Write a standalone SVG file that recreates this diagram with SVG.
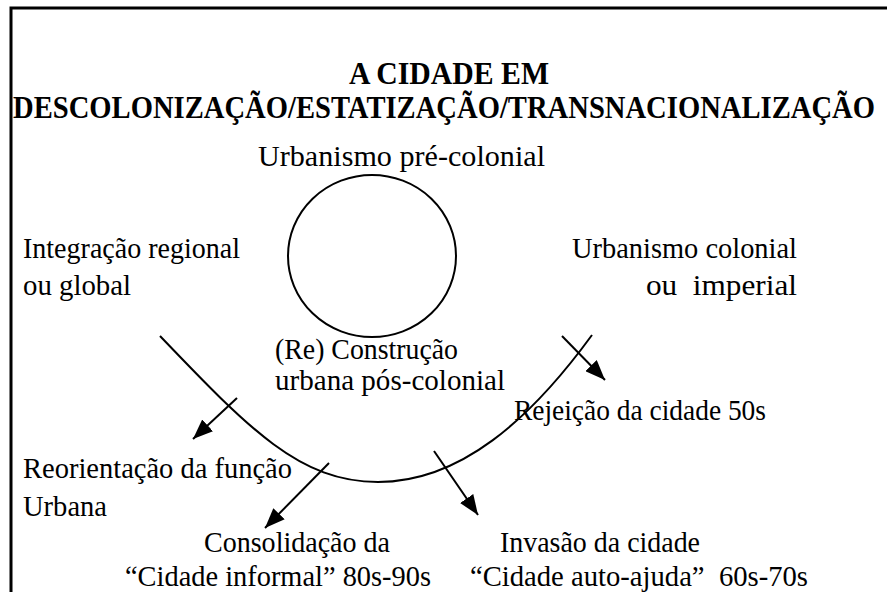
<svg xmlns="http://www.w3.org/2000/svg" width="887" height="592" viewBox="0 0 887 592">
<style>
.t{font-family:"Liberation Serif","DejaVu Serif",serif;font-size:30px;fill:#000}
.h{font-family:"Liberation Serif","DejaVu Serif",serif;font-size:32px;font-weight:bold;fill:#000}
.ln{fill:none;stroke:#000;stroke-width:2}
.ar{fill:none;stroke:#000;stroke-width:2;marker-end:url(#ah)}
</style>
<defs>
<marker id="ah" viewBox="0 0 20 16" refX="20" refY="8" markerWidth="20" markerHeight="16" markerUnits="userSpaceOnUse" orient="auto">
<path d="M0,0 L20,8 L0,16 Z" fill="#000"/>
</marker>
</defs>
<rect width="887" height="592" fill="#fff"/>
<g id="frame">
<path d="M11,592 V8 H887" fill="none" stroke="#000" stroke-width="3"/>
</g>
<g id="title">
<text class="h" transform="translate(449,84) scale(0.93,1)" text-anchor="middle">A CIDADE EM</text>
<text class="h" transform="translate(444,118) scale(0.894,1)" text-anchor="middle">DESCOLONIZAÇÃO/ESTATIZAÇÃO/TRANSNACIONALIZAÇÃO</text>
</g>
<g id="precolonial">
<text class="t" x="258" y="166" textLength="287" lengthAdjust="spacingAndGlyphs">Urbanismo pré-colonial</text>
<ellipse cx="372" cy="256" rx="84" ry="81" class="ln"/>
</g>
<g id="integracao">
<text class="t" x="23" y="258" textLength="217" lengthAdjust="spacingAndGlyphs">Integração regional</text>
<text class="t" x="23" y="295" textLength="108" lengthAdjust="spacingAndGlyphs">ou global</text>
</g>
<g id="colonial">
<text class="t" x="572" y="258" textLength="225" lengthAdjust="spacingAndGlyphs">Urbanismo colonial</text>
<text class="t" x="646" y="295" textLength="151" lengthAdjust="spacingAndGlyphs" xml:space="preserve">ou  imperial</text>
</g>
<g id="reconstrucao">
<text class="t" x="275" y="359" textLength="183" lengthAdjust="spacingAndGlyphs">(Re) Construção</text>
<text class="t" x="275" y="390" textLength="230" lengthAdjust="spacingAndGlyphs">urbana pós-colonial</text>
</g>
<g id="rejeicao">
<text class="t" x="514" y="420" textLength="252" lengthAdjust="spacingAndGlyphs">Rejeição da cidade 50s</text>
</g>
<g id="reorientacao">
<text class="t" x="23" y="478" textLength="269" lengthAdjust="spacingAndGlyphs">Reorientação da função</text>
<text class="t" x="23" y="516" textLength="84" lengthAdjust="spacingAndGlyphs">Urbana</text>
</g>
<g id="consolidacao">
<text class="t" x="204" y="552" textLength="186" lengthAdjust="spacingAndGlyphs">Consolidação da</text>
<text class="t" x="125" y="586" textLength="306" lengthAdjust="spacingAndGlyphs">“Cidade informal” 80s-90s</text>
</g>
<g id="invasao">
<text class="t" x="500" y="552" textLength="200" lengthAdjust="spacingAndGlyphs">Invasão da cidade</text>
<text class="t" x="470" y="586" textLength="338" lengthAdjust="spacingAndGlyphs" xml:space="preserve">“Cidade auto-ajuda”  60s-70s</text>
</g>
<g id="connectors">
<path class="ln" d="M160,336 C250,430 300,482 378,482 C460,482 530,420 592,335"/>
<path class="ar" d="M237,398 L193,439"/>
<path class="ar" d="M329,463 L265,528"/>
<path class="ar" d="M434,451 L478,515"/>
<path class="ar" d="M562,336 L605,380"/>
</g>
</svg>
